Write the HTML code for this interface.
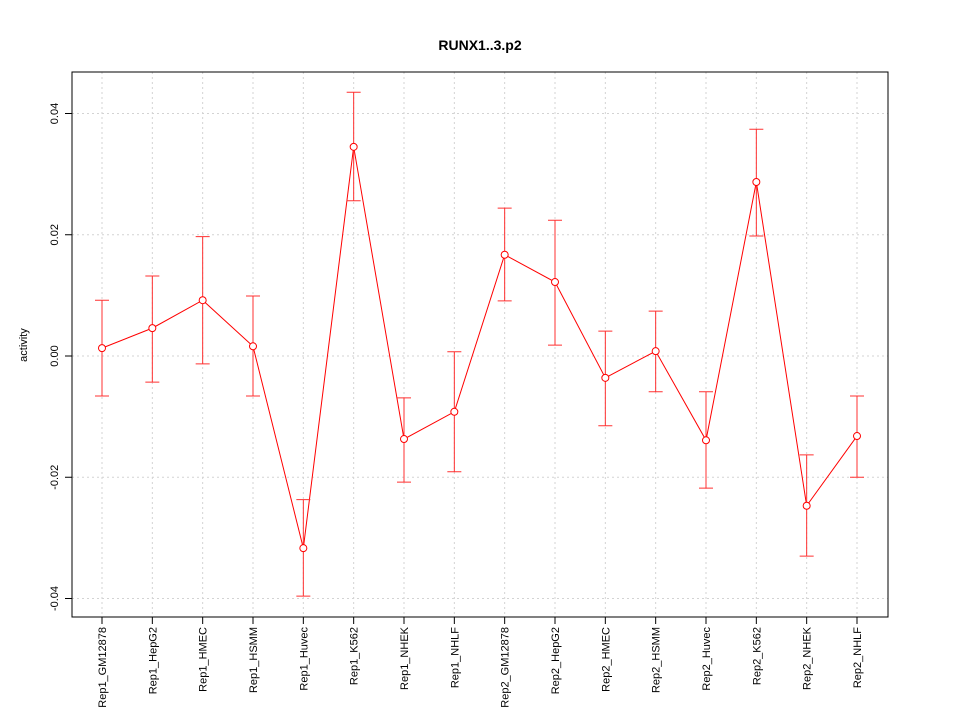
<!DOCTYPE html>
<html><head><meta charset="utf-8"><style>
body{margin:0;background:#fff;}
svg{display:block;font-family:"Liberation Sans",sans-serif;}
</style></head><body>
<svg id="chart" width="960" height="720">
<text x="480" y="50" text-anchor="middle" font-size="14" font-weight="bold">RUNX1..3.p2</text>
<text x="0" y="0" transform="translate(27,345) rotate(-90)" text-anchor="middle" font-size="11">activity</text>
<g id="grid"></g><g id="axes"></g><g id="marks"></g>
</svg>
<script>
const categories=["Rep1_GM12878","Rep1_HepG2","Rep1_HMEC","Rep1_HSMM","Rep1_Huvec","Rep1_K562","Rep1_NHEK","Rep1_NHLF","Rep2_GM12878","Rep2_HepG2","Rep2_HMEC","Rep2_HSMM","Rep2_Huvec","Rep2_K562","Rep2_NHEK","Rep2_NHLF"];
const values=[0.0013,0.0046,0.0092,0.0016,-0.0317,0.0345,-0.0137,-0.0092,0.0167,0.0122,-0.0036,0.0008,-0.0139,0.0287,-0.0247,-0.0132];
const upper=[0.0092,0.0132,0.0197,0.0099,-0.0237,0.0435,-0.0069,0.0007,0.0244,0.0224,0.0041,0.0074,-0.0059,0.0374,-0.0163,-0.0066];
const lower=[-0.0066,-0.0043,-0.0013,-0.0066,-0.0396,0.0256,-0.0208,-0.0191,0.0091,0.0018,-0.0115,-0.0059,-0.0218,0.0198,-0.033,-0.02];
const yTicks=[-0.04,-0.02,0,0.02,0.04];
const yTickLabels=["-0.04","-0.02","0.00","0.02","0.04"];
const NS="http://www.w3.org/2000/svg";
const L=72,R=888,T=72,B=617;
function xS(i){return 102+i*(857-102)/(categories.length-1);}
function yS(v){return 356-v*(121.25/0.02);}
function mk(tag,attrs,parent){const e=document.createElementNS(NS,tag);for(const k in attrs)e.setAttribute(k,attrs[k]);parent.appendChild(e);return e;}
const grid=document.getElementById('grid'),axes=document.getElementById('axes'),marks=document.getElementById('marks');
categories.forEach((c,i)=>{
 const g=mk('line',{x1:xS(i),x2:xS(i),y1:T,y2:B,stroke:'#d3d3d3','stroke-dasharray':'2,3'},grid);
 
 
 const t=mk('line',{x1:xS(i),x2:xS(i),y1:B,y2:B+7,stroke:'#000'},axes);
 
 
 const lb=mk('text',{transform:`translate(${xS(i)+4},${B+10}) rotate(-90)`,'text-anchor':'end','font-size':'11'},axes);
 lb.textContent=c;
 
 
});
yTicks.forEach((v,i)=>{
 const g=mk('line',{x1:L,x2:R,y1:yS(v),y2:yS(v),stroke:'#d3d3d3','stroke-dasharray':'2,3'},grid);
 
 
 const t=mk('line',{x1:L-7,x2:L,y1:yS(v),y2:yS(v),stroke:'#000'},axes);
 
 
 const lb=mk('text',{transform:`translate(${L-14},${yS(v)}) rotate(-90)`,'text-anchor':'middle','font-size':'11'},axes);
 lb.textContent=yTickLabels[i];
 
 
});
const box=mk('rect',{x:L,y:T,width:R-L,height:B-T,fill:'none',stroke:'#000'},axes);


const pts=values.map((v,i)=>xS(i)+','+yS(v)).join(' ');
const line=mk('polyline',{points:pts,fill:'none',stroke:'#ff0000','stroke-width':1},marks);


values.forEach((v,i)=>{
 const x=xS(i);
 const eb=mk('path',{d:`M${x},${yS(upper[i])}V${yS(lower[i])}M${x-7},${yS(upper[i])}H${x+7}M${x-7},${yS(lower[i])}H${x+7}`,stroke:'#ff3030',fill:'none'},marks);
 
 
 const p=mk('circle',{cx:x,cy:yS(v),r:3.5,fill:'#fff',stroke:'#ff0000'},marks);
 
 
});
</script>
</body></html>
